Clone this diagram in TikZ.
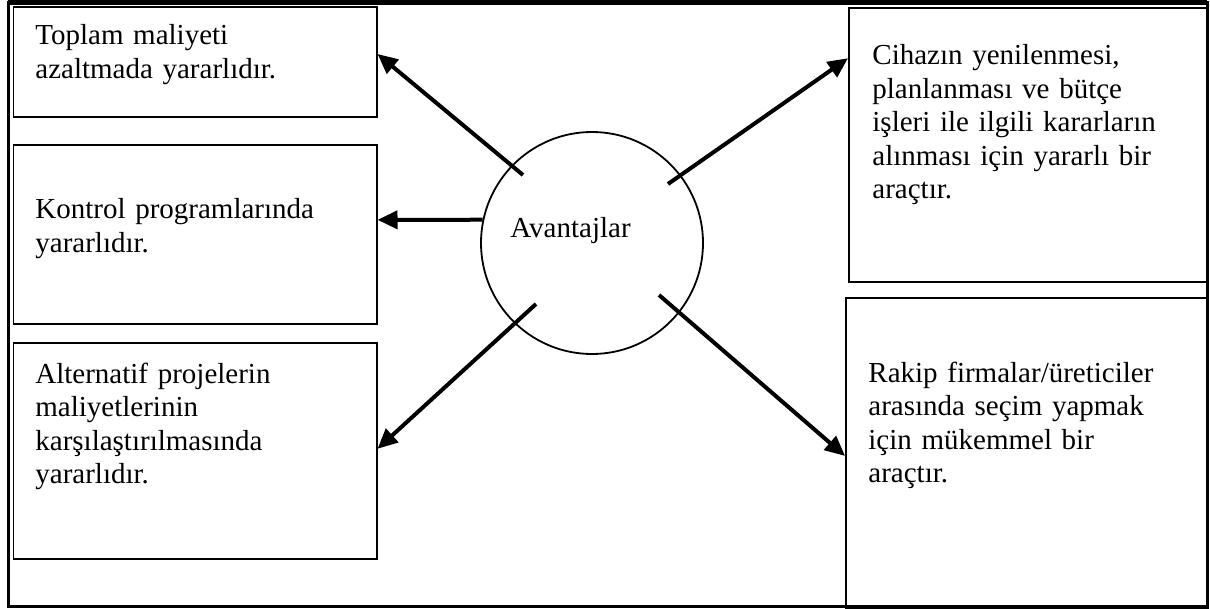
\documentclass[tikz,border=0pt]{standalone}
\usepackage{fontspec}
\setmainfont{Liberation Serif}
\usetikzlibrary{arrows.meta,calc}

\begin{document}
\begin{tikzpicture}[x=0.5pt,y=-0.5pt,
    box/.style={draw,line width=0.8pt,anchor=north west,inner sep=0pt},
    txt/.style={anchor=base west,inner sep=0pt,text width=170pt,align=left,
      font=\fontsize{14.5}{16.75}\selectfont},
    adv/.style={-{Triangle[length=10pt,width=9pt]},line width=2pt}]
  \useasboundingbox (0,0) rectangle (1210,609);
  \draw[line width=1.5pt] (8,2.5) rectangle (1207,606.5);
  \draw[line width=2.5pt] (8,2.5) -- (1207,2.5);

  \node[box,minimum width=181.6pt,minimum height=55pt] at (12.7,6) (cost) {};
  \node[box,minimum width=181.6pt,minimum height=89.5pt] at (12.7,144) (ctrl) {};
  \node[box,minimum width=181.6pt,minimum height=108.2pt] at (12.7,342) (alt) {};
  \node[box,minimum width=179.5pt,minimum height=137pt] at (848,7) (renew) {};
  \node[box,minimum width=181pt,minimum height=155pt] at (845,297) (rival) {};

  \node[txt] at (35,45) (costtxt) {Toplam maliyeti\\azaltmada yararlıdır.};
  \node[txt] at (35,219) (ctrltxt) {Kontrol programlarında\\yararlıdır.};
  \node[txt] at (35,383) (alttxt) {Alternatif projelerin\\maliyetlerinin\\karşılaştırılmasında\\yararlıdır.};
  \node[txt] at (872,65) (renewtxt) {Cihazın yenilenmesi,\\planlanması ve bütçe\\işleri ile ilgili kararların\\alınması için yararlı bir\\araçtır.};
  \node[txt] at (868,382) (rivaltxt) {Rakip firmalar/üreticiler\\arasında seçim yapmak\\için mükemmel bir\\araçtır.};

  \node[draw,circle,line width=0.9pt,minimum size=111pt,inner sep=0pt] at (592,243) (core) {};
  \node[anchor=base west,inner sep=0pt,font=\fontsize{14.5}{16.75}\selectfont] at (510,238) (corelbl) {Avantajlar};

  \coordinate (s1) at (523,175);
  \coordinate (s3) at (536,304);
  \coordinate (s4) at (668,184);
  \coordinate (s5) at (659,295);

  \draw[adv] (s1) -- ($(cost.north east)!0.43!(cost.south east)$);
  \draw[adv] (core.168) -- ($(ctrl.north east)!0.42!(ctrl.south east)$);
  \draw[adv] (s3) -- ($(alt.north east)!0.49!(alt.south east)$);
  \draw[adv] (s4) -- ($(renew.north west)!0.186!(renew.south west)$);
  \draw[adv] (s5) -- ($(rival.north west)!0.51!(rival.south west)$);
\end{tikzpicture}
\end{document}
